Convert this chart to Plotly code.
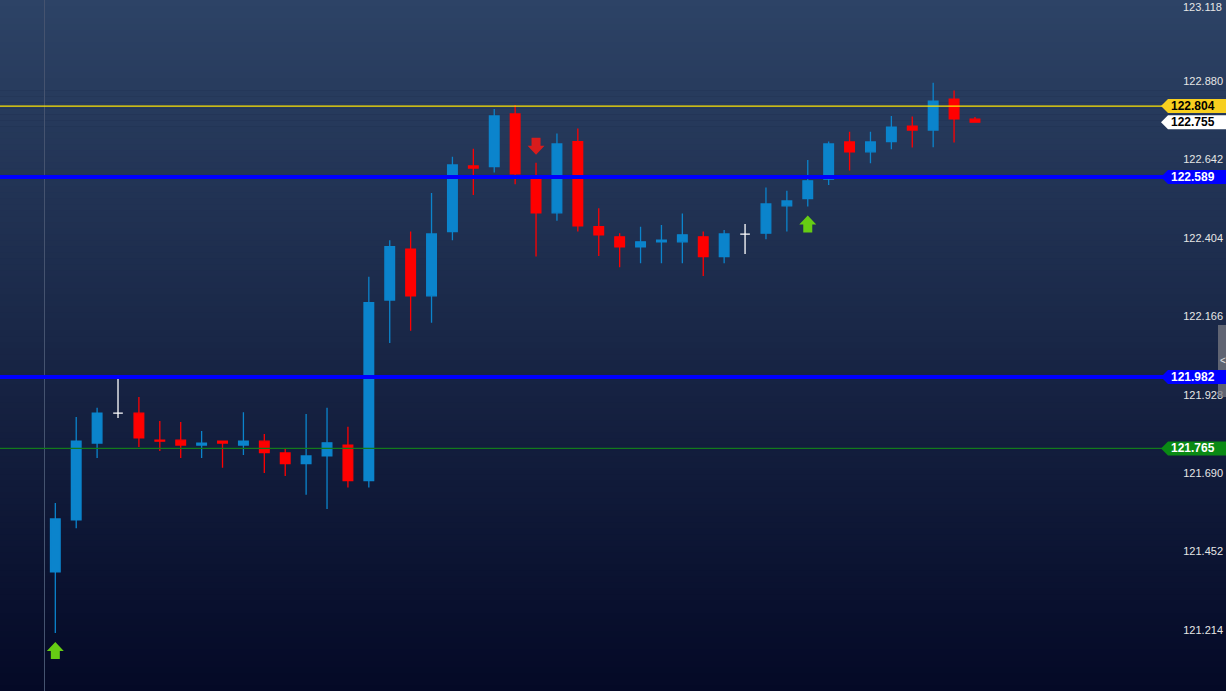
import plotly.graph_objects as go

# ---------------- data ----------------
opens = [121.390, 121.548, 121.781, 121.872, 121.872, 121.790, 121.790, 121.775, 121.787, 121.775,
         121.787, 121.751, 121.719, 121.742, 121.775, 121.667, 122.215, 122.370, 122.228, 122.423,
         122.622, 122.620, 122.780, 122.583, 122.480, 122.696, 122.438, 122.407, 122.377, 122.392,
         122.392, 122.407, 122.347, 122.415, 122.418, 122.501, 122.523, 122.582, 122.695, 122.665,
         122.696, 122.743, 122.731, 122.825, 122.764]
highs = [121.599, 121.860, 121.888, 121.982, 121.921, 121.848, 121.845, 121.818, 121.787, 121.875,
         121.809, 121.766, 121.869, 121.888, 121.831, 122.286, 122.397, 122.423, 122.540, 122.650,
         122.674, 122.795, 122.807, 122.632, 122.721, 122.736, 122.494, 122.418, 122.438, 122.443,
         122.478, 122.423, 122.428, 122.446, 122.557, 122.547, 122.640, 122.696, 122.726, 122.726,
         122.774, 122.772, 122.875, 122.851, 122.771]
lows = [121.205, 121.523, 121.736, 121.857, 121.769, 121.757, 121.736, 121.736, 121.706, 121.745,
        121.690, 121.681, 121.624, 121.581, 121.646, 121.646, 122.085, 122.122, 122.146, 122.397,
        122.534, 122.602, 122.567, 122.347, 122.456, 122.423, 122.349, 122.315, 122.327, 122.327,
        122.327, 122.288, 122.327, 122.355, 122.400, 122.423, 122.499, 122.564, 122.608, 122.630,
        122.673, 122.678, 122.679, 122.693, 122.753]
closes = [121.551, 121.787, 121.872, 121.872, 121.797, 121.787, 121.775, 121.781, 121.781, 121.787,
          121.752, 121.719, 121.742, 121.782, 121.667, 122.207, 122.377, 122.228, 122.416, 122.625,
          122.616, 122.774, 122.598, 122.480, 122.689, 122.440, 122.413, 122.377, 122.392, 122.397,
          122.413, 122.347, 122.416, 122.415, 122.507, 122.516, 122.577, 122.689, 122.665, 122.695,
          122.740, 122.731, 122.819, 122.765, 122.755]

buy_signals = [0, 36]
sell_signals = [23]

level_yellow = 122.804
level_last = 122.755
level_blue_hi = 122.589
level_blue_lo = 121.982
level_green = 121.765

tick_vals = [123.118, 122.880, 122.642, 122.404, 122.166, 121.928, 121.690, 121.452, 121.214]
tick_text = ["123.118", "122.880", "122.642", "122.404", "122.166", "121.928", "121.690", "121.452", "121.214"]

# ---------------- style ----------------
W, H = 1226, 691
BLUE = "#0b84cc"
RED = "#ff0000"
WHITE = "#ffffff"
TOP = (45, 67, 102)
BOT = (4, 9, 38)
TICKFONT = dict(color="#e6e6e6", size=11, family="Liberation Sans")

idx = list(range(len(opens)))
norm = [i for i in idx if opens[i] != closes[i]]
doji = [i for i in idx if opens[i] == closes[i]]

fig = go.Figure()
fig.add_trace(go.Candlestick(
    x=[i for i in norm], open=[opens[i] for i in norm], high=[highs[i] for i in norm],
    low=[lows[i] for i in norm], close=[closes[i] for i in norm],
    increasing=dict(line=dict(color=BLUE, width=1.3), fillcolor=BLUE),
    decreasing=dict(line=dict(color=RED, width=1.3), fillcolor=RED),
    whiskerwidth=0, hoverinfo="skip", showlegend=False))
fig.add_trace(go.Candlestick(
    x=doji, open=[opens[i] for i in doji], high=[highs[i] for i in doji],
    low=[lows[i] for i in doji], close=[closes[i] for i in doji],
    increasing=dict(line=dict(color=WHITE, width=1.3), fillcolor=WHITE),
    decreasing=dict(line=dict(color=WHITE, width=1.3), fillcolor=WHITE),
    whiskerwidth=0, hoverinfo="skip", showlegend=False))

shapes = []
# gradient background
N = 115
for k in range(N):
    t = (k + 0.5) / N
    c = tuple(int(round(TOP[j] + (BOT[j] - TOP[j]) * t)) for j in range(3))
    shapes.append(dict(type="rect", xref="paper", yref="paper", x0=0, x1=1,
                       y0=1 - (k + 1) / N - 0.001, y1=1 - k / N,
                       fillcolor="rgb(%d,%d,%d)" % c, line=dict(width=0), layer="below"))
# thin vertical line
shapes.append(dict(type="line", xref="paper", yref="paper", x0=44.5 / W, x1=44.5 / W, y0=0, y1=1,
                   line=dict(color="#45536f", width=1), layer="below"))

# horizontal levels
def hline(y, color, width):
    shapes.append(dict(type="line", xref="paper", yref="y", x0=0, x1=1, y0=y, y1=y,
                       line=dict(color=color, width=width), layer="above"))

hline(level_yellow, "#ffe400", 1.2)
hline(level_blue_hi, "#0000ff", 4)
hline(level_blue_lo, "#0000ff", 4)
hline(level_green, "#137a1c", 1.2)

# arrows
up_path = "M 0,-9 L 8.5,-18 L 4.5,-18 L 4.5,-26 L -4.5,-26 L -4.5,-18 L -8.5,-18 Z"
down_path = "M 0,8 L 8.5,17 L 4.5,17 L 4.5,25 L -4.5,25 L -4.5,17 L -8.5,17 Z"
for i in buy_signals:
    shapes.append(dict(type="path", xref="x", yref="y", xsizemode="pixel", ysizemode="pixel",
                       xanchor=i, yanchor=lows[i], path=up_path,
                       fillcolor="#66cc14", line=dict(width=0), layer="above"))
for i in sell_signals:
    shapes.append(dict(type="path", xref="x", yref="y", xsizemode="pixel", ysizemode="pixel",
                       xanchor=i, yanchor=highs[i], path=down_path,
                       fillcolor="#d81c1c", line=dict(width=0), layer="above"))

# right tab
shapes.append(dict(type="rect", xref="paper", yref="paper", x0=1218 / W, x1=1,
                   y0=1 - 397 / H, y1=1 - 325 / H, fillcolor="rgba(120,122,130,0.75)",
                   line=dict(width=0), layer="above"))

annotations = [dict(xref="paper", yref="paper", x=1222.5 / W, xanchor="center", y=1 - 360 / H,
                    yanchor="middle", text="<", showarrow=False,
                    font=dict(color="#e0e0e0", size=10, family="Liberation Sans"))]

# top tick label (kept fully inside the page, as in the reference)
annotations.append(dict(xref="paper", yref="paper", x=1, xanchor="right", xshift=-2,
                        y=1, yanchor="top", yshift=1, text=tick_text[0], showarrow=False,
                        font=TICKFONT))

# price badges
xt, xb = 1161 / W, 1168 / W
def badge(y, fill, txtcol):
    shapes.append(dict(type="path", xref="paper", yref="y", ysizemode="pixel", yanchor=y,
                       path="M %f,0 L %f,7 L 1,7 L 1,-7 L %f,-7 Z" % (xt, xb, xb),
                       fillcolor=fill, line=dict(width=0), layer="above"))
    annotations.append(dict(xref="paper", yref="y", x=1, xanchor="right", xshift=-9, y=y,
                            text="<b>%.3f</b>" % y, showarrow=False,
                            font=dict(color=txtcol, size=12, family="Liberation Sans")))

badge(level_yellow, "#f7cf1f", "#000000")
badge(level_last, "#ffffff", "#000000")
badge(level_blue_hi, "#0000ff", "#ffffff")
badge(level_blue_lo, "#0000ff", "#ffffff")
badge(level_green, "#0a8a14", "#ffffff")

fig.update_layout(
    width=W, height=H, margin=dict(l=0, r=0, t=0, b=0, autoexpand=False),
    paper_bgcolor="rgb(4,9,38)", plot_bgcolor="rgba(0,0,0,0)",
    shapes=shapes, annotations=annotations, boxgap=0.34,
    xaxis=dict(range=[-2.646, 56.01], visible=False, rangeslider=dict(visible=False),
               fixedrange=True, automargin=False),
    yaxis=dict(range=[121.0287, 123.1258], side="right", ticklabelposition="inside",
               tickvals=tick_vals[1:], ticktext=tick_text[1:], ticks="", showgrid=False,
               zeroline=False, showline=False, ticklabeloverflow="allow", automargin=False,
               tickfont=TICKFONT),
    showlegend=False,
)

fig.write_html("out.html", config={"displayModeBar": False},
               post_script="document.body.style.margin='0px';document.body.style.overflow='hidden';")
